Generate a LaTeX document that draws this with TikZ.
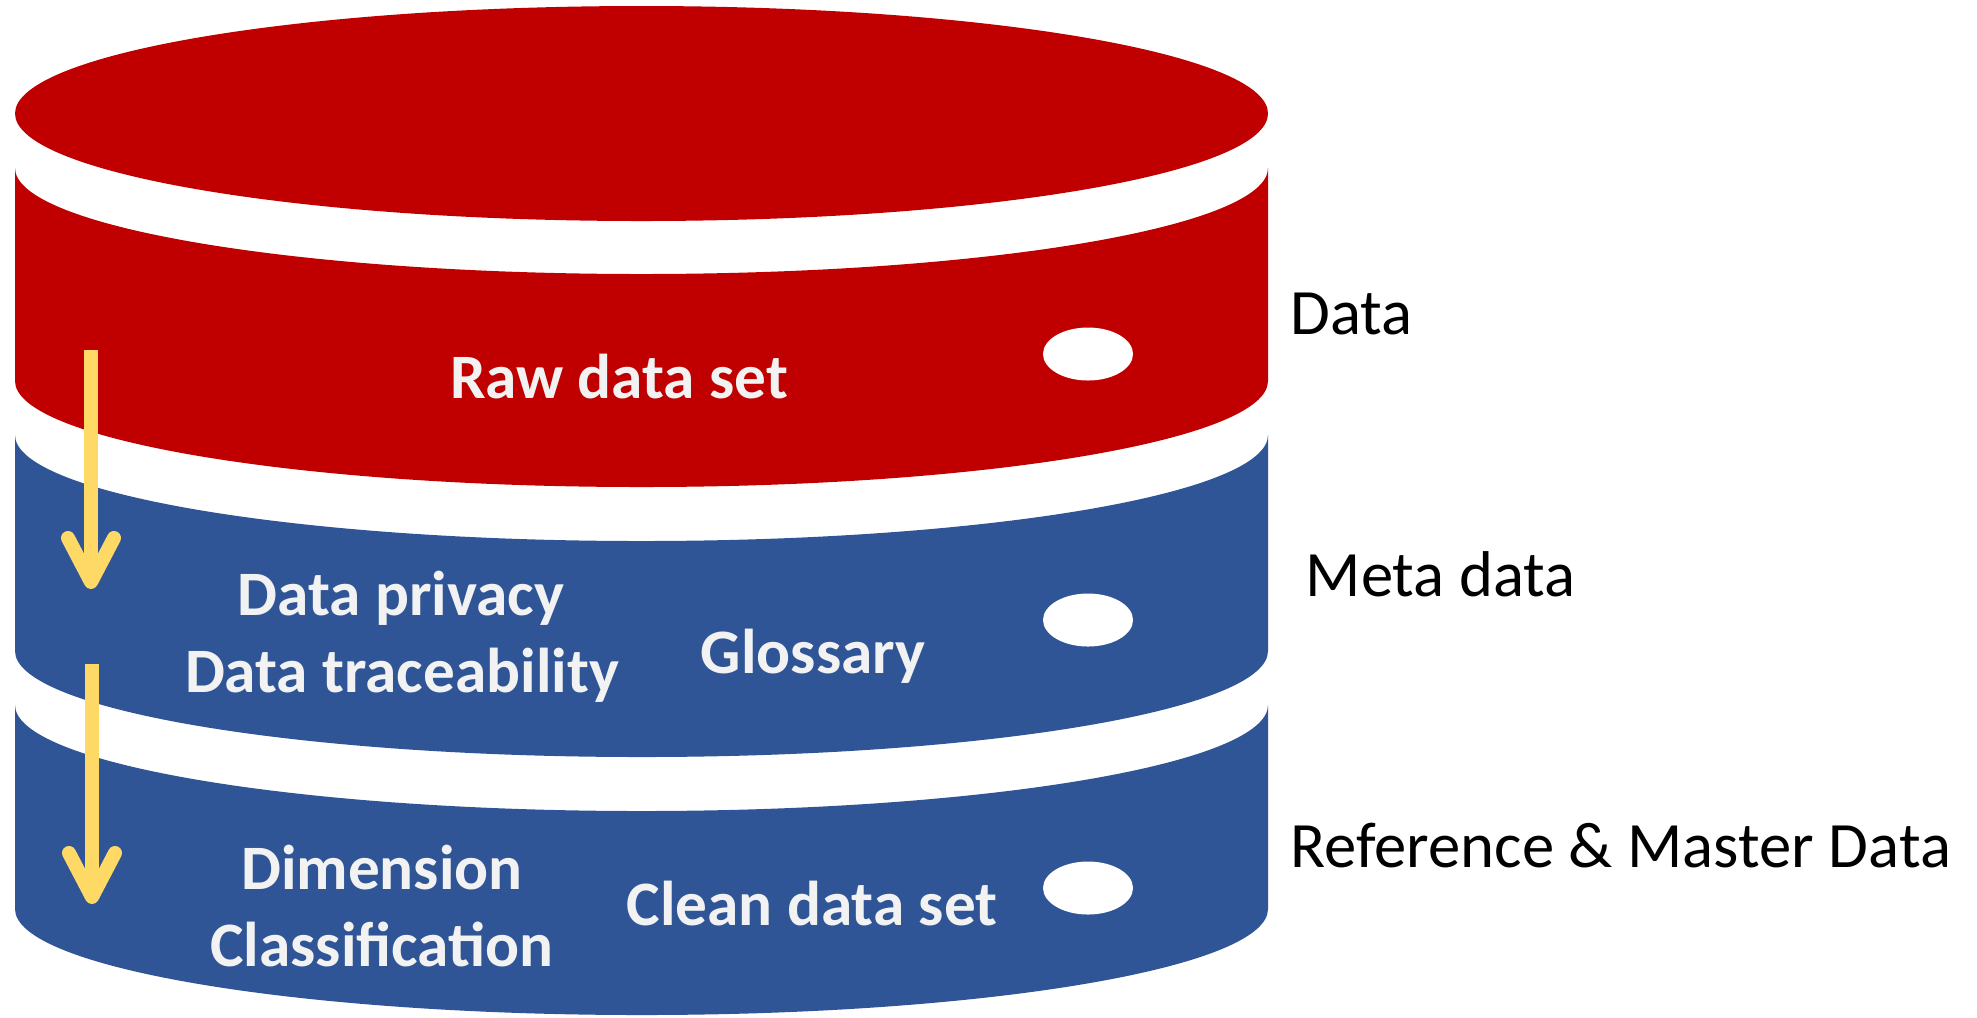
\documentclass[tikz,border=0pt]{standalone}
\usepackage{fontspec}
\setmainfont{Carlito}
\usetikzlibrary{arrows.meta}
\definecolor{dbred}{HTML}{C00000}
\definecolor{dbblue}{HTML}{2F5597}
\definecolor{dbgold}{HTML}{FFD966}
\definecolor{dbtext}{HTML}{F2F2F2}
\begin{document}
\begin{tikzpicture}
[x=0.01cm, y=0.01cm,
  innerlabel/.style={text=dbtext, font=\fontsize{18}{22}\selectfont\bfseries, inner sep=0pt, anchor=base},
  sidelabel/.style={text=black, font=\fontsize{18.4}{22}\selectfont, inner sep=0pt, anchor=base west},
  flowdecorate/.style={draw=dbgold, line width=0.14cm,
    -{Straight Barb[length=0.44cm, width=0.46cm, round]}}]
\useasboundingbox (0,0) rectangle (1977,-1017);
%% lid of the cylinder
\fill[dbred] (641.5,-113.5) ellipse[x radius=626.5, y radius=107.5];
%% layers: colour / side top / side bottom
\foreach \layercolor/\ytop/\ybot in {dbred/168/381, dbblue/435/651, dbblue/705/909}
{
  \fill[\layercolor] (15,-\ytop) arc[start angle=180, end angle=360, x radius=626.5, y radius=106]
    -- (1268,-\ybot) arc[start angle=0, end angle=-180, x radius=626.5, y radius=106] -- cycle;
}
%% holes
\foreach \y in {354, 620, 888}
{
  \fill[white] (1088,-\y) ellipse[x radius=45, y radius=26.5];
}
%% texts on the layers
\foreach \nodename/\x/\y/\txt in {raw/619/398/Raw data set,
  privacy/401/615/Data privacy, trace/402/692/Data traceability,
  glossary/813/673/Glossary, dimension/382/889/Dimension,
  classif/382/966/Classification, clean/812/925/Clean data set}
{
  \node[innerlabel] (\nodename) at (\x,-\y) {\txt};
}
%% texts beside the layers
\foreach \nodename/\x/\y/\txt in {data/1290/334/Data, meta/1305/596/Meta data,
  master/1290/867/Reference \& Master Data}
{
  \node[sidelabel] (\nodename) at (\x,-\y) {\txt};
}
%% arrows
\coordinate (flowatop) at (91,-350);
\coordinate (flowabot) at (91,-589);
\coordinate (flowbtop) at (92,-664);
\coordinate (flowbbot) at (92,-904);
\draw[flowdecorate] (flowatop) -- (flowabot);
\draw[flowdecorate] (flowbtop) -- (flowbbot);
\end{tikzpicture}
\end{document}
